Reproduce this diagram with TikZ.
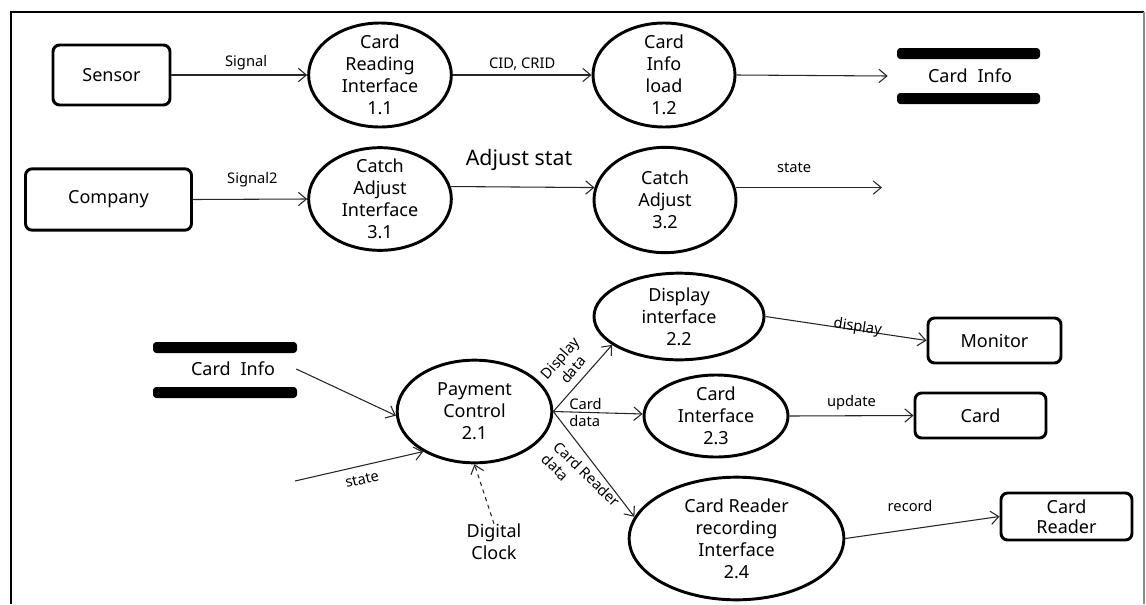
\documentclass[tikz,border=0pt]{standalone}
\usepackage{fontspec}
\setmainfont{Noto Sans}
\usetikzlibrary{shapes.geometric,arrows.meta}
\begin{document}
\begin{tikzpicture}[x=0.75pt,y=-0.75pt,
  proc/.style={ellipse,draw,line width=2.2pt,inner xsep=0pt,inner ysep=-8pt,align=center,
    font=\fontsize{13.5}{16.5}\selectfont},
  ext/.style={draw,rounded corners=5pt,line width=2.2pt,inner sep=0pt,align=center,
    font=\fontsize{13.5}{16.5}\selectfont},
  storetxt/.style={inner sep=0pt,font=\fontsize{13.5}{16.5}\selectfont},
  bar/.style={fill=black,rounded corners=2.5pt},
  flow/.style={draw=black!85,line width=0.8pt,-{Straight Barb[length=6pt,width=10pt]}},
  lbl/.style={font=\fontsize{11}{13}\selectfont,inner sep=1pt},
  ]
\useasboundingbox (0,0) rectangle (1146,604);
% frame
\draw[line width=1.3pt] (11,604) -- (11,12) -- (1144,12);
\draw[black!45,line width=1pt] (1144,12) -- (1144,604);

% ---- top row
\node[ext,minimum width=87.75pt,minimum height=45pt] (sensor) at (111.5,75) {Sensor};
\node[proc,minimum width=107pt,minimum height=78pt] (n11) at (380,75) {Card\\Reading\\Interface\\1.1};
\node[proc,minimum width=106.5pt,minimum height=78pt] (n12) at (664,75) {Card\\Info\\load\\1.2};
\node[storetxt,minimum width=123pt] (store1) at (970,76) {Card\hspace{0.55em}Info};
\fill[bar] (897,48) rectangle (1040,59);
\fill[bar] (897,93) rectangle (1040,104);

\draw[flow] (sensor) -- node[lbl,above=2pt,pos=0.55] {Signal} (n11);
\draw[flow] (n11) -- node[lbl,above=2pt] {CID, CRID} (n12);
\draw[flow] (n12.east) -- (store1.west);

% ---- second row
\node[ext,minimum width=124.5pt,minimum height=46pt] (company) at (108.5,199.5) {Company};
\node[proc,minimum width=107pt,minimum height=77pt] (n31) at (380,199) {Catch\\Adjust\\Interface\\3.1};
\node[proc,minimum width=106.5pt,minimum height=79pt] (n32) at (665,200) {Catch\\Adjust\\3.2};
\coordinate (s32) at (882,189);

\draw[flow] (company.east) -- node[lbl,above=8pt,pos=0.52] {Signal2} (n31.west);
\draw[flow] (n31.10) -- (n32.170);
\node[font=\fontsize{16}{19}\selectfont,inner sep=0pt] (adj) at (519,160) {Adjust stat};
\draw[flow] (n32.10) -- node[lbl,above=10pt,pos=0.4] {state} (n32.10 -| s32);

% ---- bottom section
\node[storetxt,minimum width=94.5pt] (store2) at (233,369) {Card\hspace{0.55em}Info};
\fill[bar] (153,342) rectangle (297,353);
\fill[bar] (153,387) rectangle (297,398);

\node[proc,minimum width=116pt,minimum height=77pt] (n21) at (474.5,411.5) {Payment\\Control\\2.1};
\node[proc,minimum width=127.5pt,minimum height=65pt] (n22) at (679,316.5) {Display\\interface\\2.2};
\node[proc,minimum width=108pt,minimum height=61.5pt] (n23) at (716,416) {Card\\Interface\\2.3};
\node[proc,minimum width=161pt,minimum height=92pt] (n24) at (736.5,538.5) {Card Reader\\recording\\Interface\\2.4};

\node[ext,minimum width=99.75pt,minimum height=33.75pt] (monitor) at (994.5,340.5) {Monitor};
\node[ext,minimum width=98.25pt,minimum height=33.75pt] (card) at (980.5,415.5) {Card};
\node[ext,minimum width=98.25pt,minimum height=35.25pt,font=\fontsize{13.5}{15}\selectfont] (cardreader) at (1066.5,516.5) {Card\\Reader};

\node[storetxt,align=center] (clock) at (494,542) {Digital\\Clock};
\coordinate (statein) at (295,481);

\draw[flow] (store2.east) -- (n21.183);
\draw[flow] (statein) -- node[lbl,below=5pt,sloped] {state} (n21.218);
\draw[flow,dashed] (clock.north) -- (n21.south);

\draw[flow] (n21.east) -- node[lbl,above=4pt,sloped,pos=0.5,align=center] {Display\\data} (n22.203);
\draw[flow] (n21.east) -- node[lbl,pos=0.36,align=left,inner sep=0pt] {Card\\data} (n23);
\draw[flow] (n21.east) -- node[lbl,below=3pt,sloped,rotate=8,pos=0.52,align=left] {Card Reader\\data} (n24.168);

\draw[flow] (n22.east) -- node[lbl,sloped,pos=0.57,yshift=2pt] {display} (monitor.west);
\draw[flow] (n23.east) -- node[lbl,above=3pt] {update} (card.west);
\draw[flow] (n24.east) -- node[lbl,above=12pt,pos=0.42] {record} (cardreader.west);
\end{tikzpicture}
\end{document}
